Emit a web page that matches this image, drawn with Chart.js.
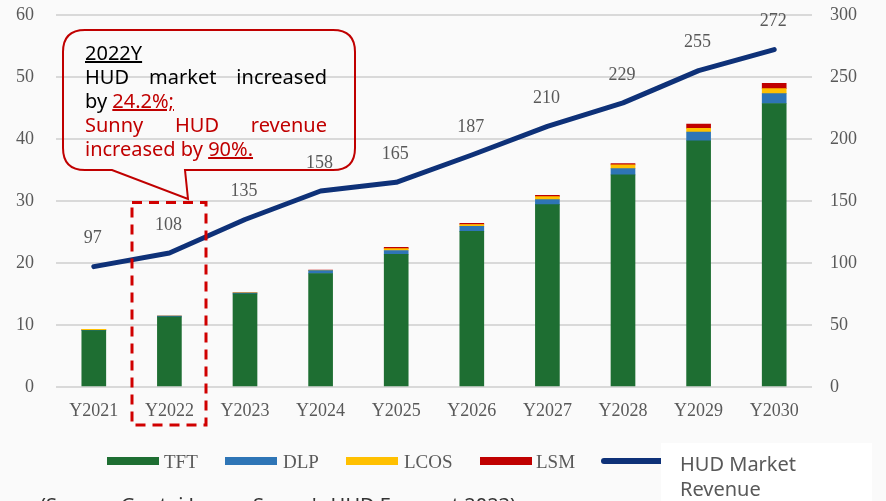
<!DOCTYPE html>
<html>
<head>
<meta charset="utf-8">
<script src="https://cdn.jsdelivr.net/npm/chart.js@4/dist/chart.umd.min.js"></script>
<style>
  html, body { margin:0; padding:0; background:#fafafa; }
  #wrap { position:relative; width:886px; height:501px; overflow:hidden; background:#fafafa; }
  canvas { position:absolute; left:0; top:-18px; }
  .ov { position:absolute; }
  #callout { left:85px; top:41px; width:242px; font-family:'Noto Sans', sans-serif; font-size:20px; line-height:24px; color:#000; white-space:nowrap; }
  #callout .just { display:flex; justify-content:space-between; }
  #callout .red { color:#c00000; }
  .leg { position:absolute; top:452px; font-family:'Liberation Serif', serif; font-size:19px; color:#595959; line-height:19px; }
  .sw { position:absolute; top:457px; width:52px; height:8px; }
  #hudbox { left:661px; top:443px; width:211px; height:70px; background:#ffffff; }
  #hudtext { left:680px; top:451px; font-family:'Noto Sans', sans-serif; font-size:20px; line-height:25px; color:#595959; }
  #source { left:40px; top:493px; font-family:'Noto Sans', sans-serif; font-size:20px; line-height:24px; color:#333; white-space:nowrap; }
</style>
</head>
<body>
<div id="wrap">
  <canvas id="c" width="886" height="519"></canvas>
  <svg class="ov" width="886" height="501" style="left:0;top:0">
    <path d="M85,30 H333 Q355,30 355,52 V148 Q355,170 333,170 H185 L188,199 L112,170 H85 Q63,170 63,148 V52 Q63,30 85,30 Z" fill="none" stroke="#c00000" stroke-width="2"/>
    <rect x="132" y="202.5" width="74" height="222.5" fill="none" stroke="#d00000" stroke-width="3" stroke-dasharray="10,7"/>
  </svg>
  <div id="callout" class="ov">
    <div><u>2022Y</u></div>
    <div class="just"><span>HUD</span><span>market</span><span>increased</span></div>
    <div>by <u class="red">24.2%;</u></div>
    <div class="just red"><span>Sunny</span><span>HUD</span><span>revenue</span></div>
    <div class="red">increased by <u>90%.</u></div>
  </div>
  <div class="sw" style="left:107px;background:#1e6e32"></div><div class="leg" style="left:164px">TFT</div>
  <div class="sw" style="left:225px;background:#2e75b6"></div><div class="leg" style="left:283px">DLP</div>
  <div class="sw" style="left:346px;background:#ffc000"></div><div class="leg" style="left:404px">LCOS</div>
  <div class="sw" style="left:480px;background:#c00000"></div><div class="leg" style="left:536px">LSM</div>
  <div class="sw" style="left:601px;top:458px;width:70px;height:6px;border-radius:3px;background:#0e3178"></div>
  <div id="hudbox" class="ov"></div>
  <div id="hudtext" class="ov">HUD Market<br>Revenue</div>
  <div id="source" class="ov">(Source: Guotai Junan, Sunny's HUD Forecast 2023)</div>
</div>
<script>
const categories = ['Y2021','Y2022','Y2023','Y2024','Y2025','Y2026','Y2027','Y2028','Y2029','Y2030'];
const tft  = [9.1, 11.3, 15.0, 18.3, 21.4, 25.1, 29.4, 34.2, 39.7, 45.7];
const dlp  = [0.05, 0.15, 0.15, 0.45, 0.6, 0.8, 0.8, 1.0, 1.4, 1.6];
const lcos = [0.15, 0, 0.05, 0.05, 0.3, 0.3, 0.5, 0.6, 0.6, 0.8];
const lsm  = [0, 0, 0, 0.05, 0.2, 0.2, 0.2, 0.2, 0.7, 0.85];
const hudRevenue = [97, 108, 135, 158, 165, 187, 210, 229, 255, 272];
const leftAxisRange = [0, 60, 10];
const rightAxisRange = [0, 300, 50];

const tickFont = { family: "'Liberation Serif', serif", size: 18 };
const tickColor = '#595959';

const lineLabels = {
  id: 'lineLabels',
  afterDatasetsDraw(chart) {
    const ctx = chart.ctx;
    const idx = chart.data.datasets.findIndex(d => d.type === 'line');
    const meta = chart.getDatasetMeta(idx);
    ctx.save();
    ctx.font = "18px 'Liberation Serif', serif";
    ctx.fillStyle = '#595959';
    ctx.textAlign = 'center';
    ctx.textBaseline = 'middle';
    meta.data.forEach((pt, i) => {
      ctx.fillText(String(chart.data.datasets[idx].data[i]), pt.x - 1, pt.y - 28);
    });
    ctx.restore();
  }
};

function barSet(label, data, color) {
  return { type:'bar', label, data, backgroundColor: color, borderWidth: 0, barThickness: 24, stack: 's', yAxisID: 'y', order: 1 };
}

new Chart(document.getElementById('c'), {
  data: {
    labels: categories,
    datasets: [
      { type:'line', label:'HUD Market Revenue', data: hudRevenue, yAxisID:'y1', borderColor:'#0e3178', backgroundColor:'#0e3178', borderWidth:5, pointRadius:0, tension:0, borderCapStyle:'round', borderJoinStyle:'round', order:0 },
      barSet('TFT', tft, '#1e6e32'),
      barSet('DLP', dlp, '#2e75b6'),
      barSet('LCOS', lcos, '#ffc000'),
      barSet('LSM', lsm, '#c00000')
    ]
  },
  options: {
    responsive: false,
    animation: false,
    devicePixelRatio: 1,
    layout: { padding: { top: 0, left: 0, right: 0, bottom: 0 } },
    plugins: { legend: { display:false }, tooltip: { enabled:false } },
    scales: {
      x: {
        stacked: true,
        grid: { display:false },
        border: { display:false },
        ticks: { font: tickFont, color: tickColor, padding: 5 },
        afterFit(s) { s.height = 114; }
      },
      y: {
        position: 'left',
        stacked: true,
        min: leftAxisRange[0], max: leftAxisRange[1],
        ticks: { stepSize: leftAxisRange[2], font: tickFont, color: tickColor, padding: 22 },
        grid: { color:'#d9d9d9', lineWidth: 2, drawTicks:false },
        border: { display:false },
        afterFit(s) { s.width = 56; }
      },
      y1: {
        position: 'right',
        min: rightAxisRange[0], max: rightAxisRange[1],
        ticks: { stepSize: rightAxisRange[2], font: tickFont, color: tickColor, padding: 18 },
        grid: { display:false, drawTicks:false },
        border: { display:false },
        afterFit(s) { s.width = 74; }
      }
    }
  },
  plugins: [lineLabels]
});
</script>
</body>
</html>
